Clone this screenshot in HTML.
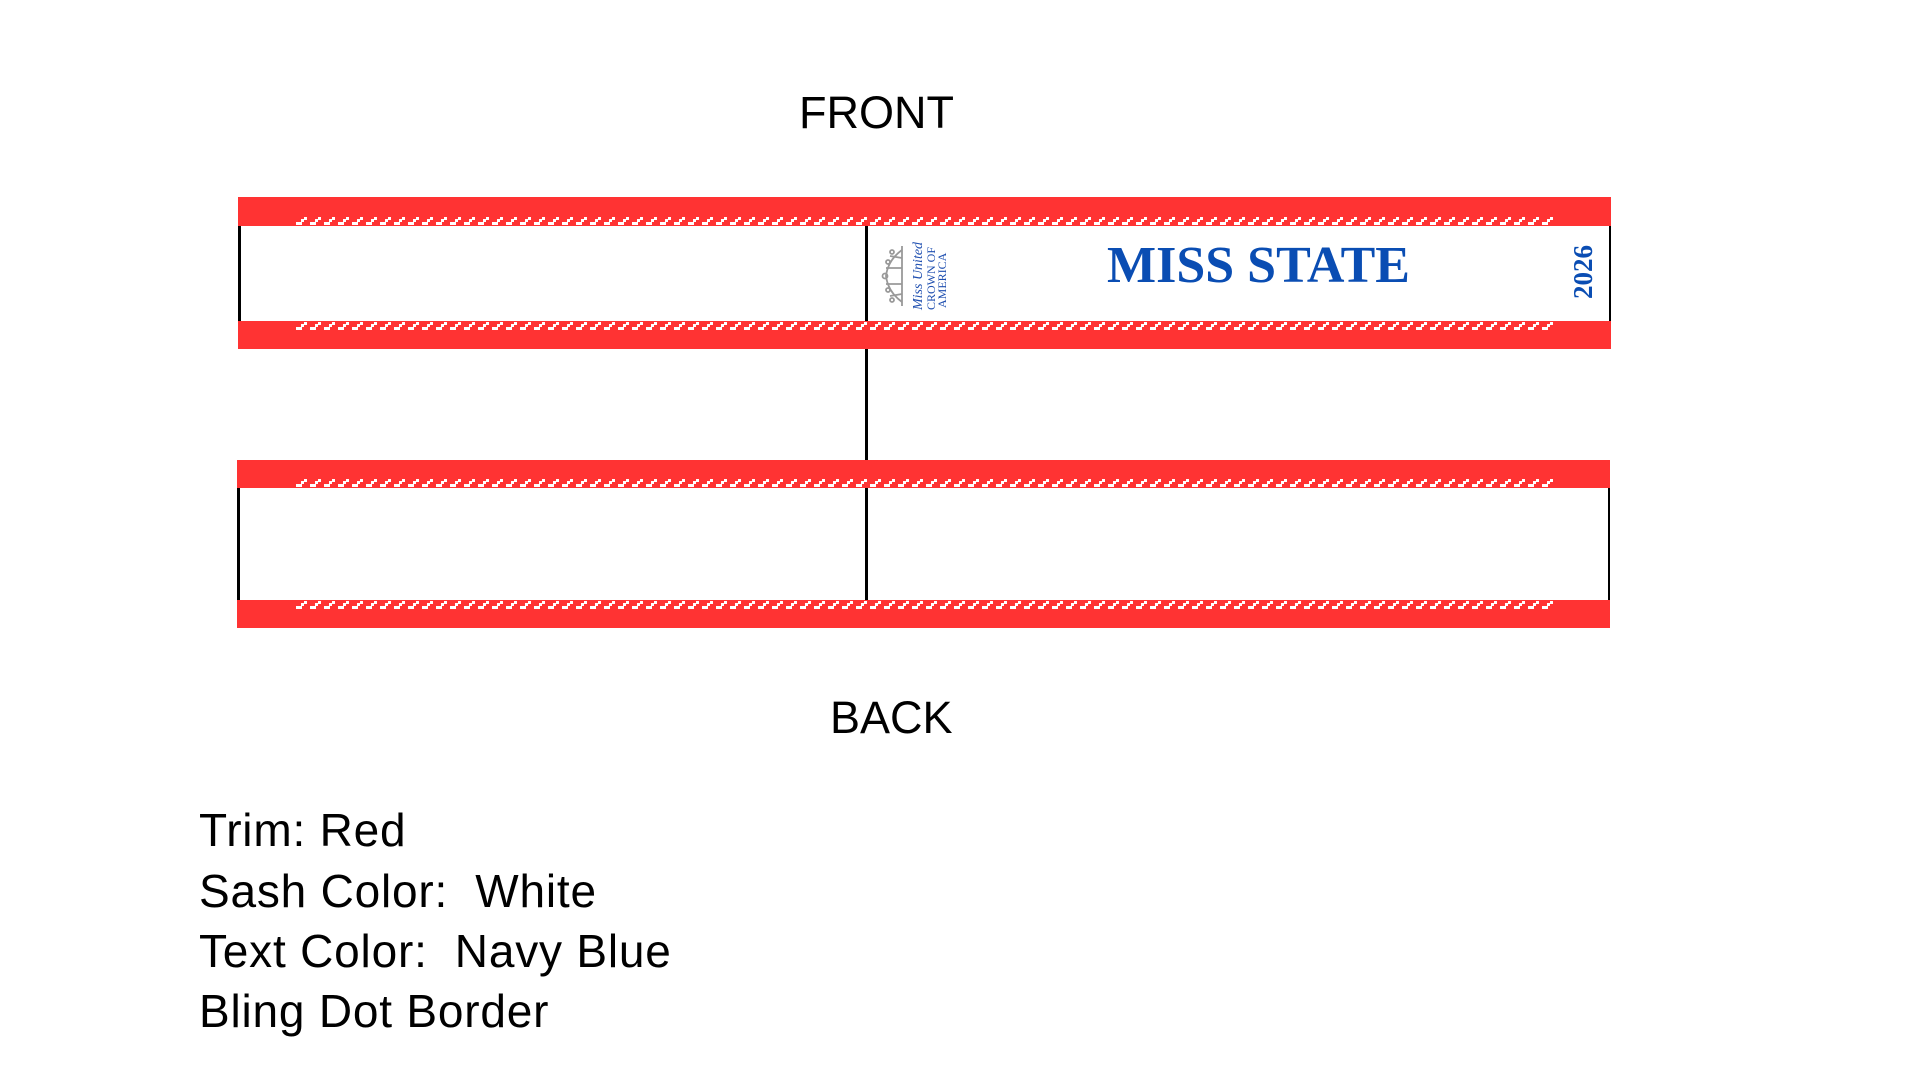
<!DOCTYPE html>
<html><head><meta charset="utf-8"><style>
body{margin:0;width:1920px;height:1080px;background:#fff;position:relative;overflow:hidden;font-family:"Liberation Sans",sans-serif}
.a{position:absolute}
.red{position:absolute;background:#ff3333;z-index:2}
.vl{position:absolute;background:#000;width:3px;z-index:1}
.lbl{position:absolute;font-size:45px;line-height:46px;color:#000;white-space:nowrap}
.spec{position:absolute;left:199px;font-size:46px;line-height:44px;color:#000;white-space:nowrap;letter-spacing:0.8px}
svg.a{z-index:3}
</style></head><body>
<svg width="0" height="0" style="position:absolute"><defs>
<pattern id="dots" width="14" height="8" patternUnits="userSpaceOnUse">
<rect x="0" y="5" width="3" height="3" fill="#fff"/><rect x="3" y="5" width="3" height="3" fill="#fff"/>
<rect x="5" y="2" width="3" height="3" fill="#fff"/><rect x="8" y="0" width="3" height="3" fill="#fff"/>
</pattern></defs></svg>

<div class="lbl" style="left:799px;top:90px">FRONT</div>
<div class="lbl" style="left:830px;top:695px">BACK</div>

<div class="red" style="left:238px;top:197px;width:1373px;height:29px"></div>
<div class="red" style="left:238px;top:321px;width:1373px;height:28px"></div>
<svg class="a" style="left:296px;top:217px" width="1257" height="8"><rect width="1257" height="8" fill="url(#dots)"/></svg>
<svg class="a" style="left:296px;top:322px" width="1257" height="8"><rect width="1257" height="8" fill="url(#dots)"/></svg>
<div class="vl" style="left:238px;top:226px;height:95px"></div>
<div class="vl" style="left:1609px;top:226px;height:95px;width:2px"></div>

<div class="red" style="left:237px;top:460px;width:1373px;height:28px"></div>
<div class="red" style="left:237px;top:600px;width:1373px;height:28px"></div>
<svg class="a" style="left:296px;top:479px" width="1257" height="8"><rect width="1257" height="8" fill="url(#dots)"/></svg>
<svg class="a" style="left:296px;top:601px" width="1257" height="8"><rect width="1257" height="8" fill="url(#dots)"/></svg>
<div class="vl" style="left:237px;top:488px;height:112px"></div>
<div class="vl" style="left:1608px;top:488px;height:112px;width:2px"></div>

<div class="vl" style="left:865px;top:226px;height:374px"></div>

<svg class="a" style="left:880px;top:238px" width="74" height="76">
<g stroke="#999" fill="none" stroke-width="1.8">
<path d="M22 8 L22 68"/><path d="M22 12 Q8 22 6 38 Q8 54 22 64"/>
<path d="M22 20 L10 18 M22 30 L6 30 M22 46 L6 46 M22 56 L10 58"/>
<circle cx="12" cy="14" r="2"/><circle cx="8" cy="24" r="2"/><circle cx="5" cy="38" r="2.5"/><circle cx="8" cy="52" r="2"/><circle cx="12" cy="62" r="2"/>
</g>
<text transform="translate(42,72) rotate(-90)" font-family="Liberation Serif,serif" font-style="italic" font-size="14" fill="#1f4fb0">Miss United</text>
<text transform="translate(55,72) rotate(-90)" font-family="Liberation Serif,serif" font-size="12" fill="#1f4fb0">CROWN OF</text>
<text transform="translate(66,70) rotate(-90)" font-family="Liberation Serif,serif" font-size="12" fill="#1f4fb0">AMERICA</text>
</svg>

<div class="a" style="left:1050px;top:238px;width:417px;text-align:center;font-family:'Liberation Serif',serif;font-weight:bold;font-size:52px;line-height:56px;color:#0a4db3">MISS STATE</div>
<div class="a" style="left:1555px;top:258px;width:56px;text-align:center;font-family:'Liberation Serif',serif;font-weight:bold;font-size:27px;line-height:28px;color:#0a4db3;transform:rotate(-90deg)">2026</div>

<div class="spec" style="top:808px">Trim: Red</div>
<div class="spec" style="top:869px">Sash Color:&nbsp; White</div>
<div class="spec" style="top:929px">Text Color:&nbsp; Navy Blue</div>
<div class="spec" style="top:989px">Bling Dot Border</div>
</body></html>
